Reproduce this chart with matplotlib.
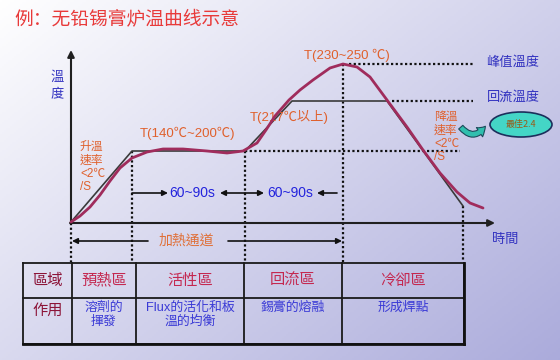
import numpy as np
import matplotlib.pyplot as plt
from matplotlib.patches import Ellipse, FancyArrowPatch

CJK = ['Noto Sans CJK TC', 'DejaVu Sans']
LAT = ['Liberation Sans', 'Noto Sans CJK TC', 'DejaVu Sans']
plt.rcParams['font.family'] = CJK

# 炉温曲线 (reflow profile, px units of the sketch)
curve_x = [71, 80, 90, 100, 110, 120, 132, 147, 163, 183, 207, 227, 243,
           257, 266, 275, 289, 300, 313, 330, 343, 357, 370, 387, 407, 423,
           440, 457, 470, 483]
curve_y = [222, 216, 207, 195, 181, 168, 158, 152, 149, 149, 151, 153, 151,
           143, 130, 116, 100, 90, 80, 68, 64, 67, 77, 100, 127, 150,
           173, 192, 203, 208]
# 理想折线
ideal_x = [71, 132, 245, 292, 387, 463]
ideal_y = [222, 151, 151, 101, 101, 206]

zone_x = [71, 132, 245, 343, 463]
soak_y, reflow_y, peak_y = 151, 101, 64

headers = ['區域', '預熱區', '活性區', '回流區', '冷卻區']
functions = ['作用', '溶劑的\n揮發', 'Flux的活化和板\n溫的均衡', '錫膏的熔融', '形成焊點']
col_x = [23, 72, 136, 244, 342, 464]
row_y = [263, 298, 344]

fig = plt.figure(figsize=(5.6, 3.6), dpi=100)
ax = fig.add_axes([0, 0, 1, 1])
ax.set_xlim(0, 560)
ax.set_ylim(360, 0)
ax.axis('off')

# background gradient
gx, gy = np.meshgrid(np.linspace(0, 1, 280), np.linspace(0, 1, 180))
t = np.clip(0.55 * gx + 0.45 * gy, 0, 1) ** 1.0
c0 = np.array([1.0, 1.0, 1.0])
c1 = np.array([0.67, 0.67, 0.86])
bg = c0 * (1 - t[..., None]) + c1 * t[..., None]
ax.imshow(bg, extent=[0, 560, 360, 0], aspect='auto', zorder=0)

ax.text(14, 20, '例：无铅锡膏炉温曲线示意', fontsize=13.5, color='#e83a3a',
        ha='left', va='center', family=['Noto Sans CJK SC', 'DejaVu Sans'])

# axes arrows
ax.annotate('', xy=(71, 50), xytext=(71, 223),
            arrowprops=dict(arrowstyle='-|>', color='#202020', lw=1.5,
                            mutation_scale=10, shrinkA=0, shrinkB=0))
ax.annotate('', xy=(495, 223), xytext=(70, 223),
            arrowprops=dict(arrowstyle='-|>', color='#202020', lw=1.5,
                            mutation_scale=10, shrinkA=0, shrinkB=0))

dot = dict(color='#111111', lw=1.6, linestyle=(0, (1, 1.1)))
ax.plot([245, 460], [soak_y, soak_y], **dot)
ax.plot([392, 473], [reflow_y, reflow_y], **dot)
ax.plot([349, 473], [peak_y, peak_y], **dot)
tops = [223, soak_y, soak_y, peak_y, 206]
for zx, ty in zip(zone_x, tops):
    ax.plot([zx, zx], [ty, 262], **dot)

ax.plot(ideal_x, ideal_y, color='#3a3a3a', lw=1.2, zorder=3)
ax.plot(curve_x, curve_y, color='#a02c5c', lw=2.0, zorder=4,
        solid_capstyle='round')

# 60~90s arrows
arr = dict(arrowstyle='-|>', color='#111111', lw=1.2, mutation_scale=8,
           shrinkA=0, shrinkB=0)
for a, b in [((132, 193), (168, 193)), ((245, 193), (220, 193)),
             ((245, 193), (264, 193)), ((337, 193), (317, 193)),
             ((148, 241), (72, 241)), ((228, 241), (342, 241))]:
    ax.annotate('', xy=b, xytext=a, arrowprops=arr)
for cx in [192, 290]:
    ax.text(cx, 193, '60~90s', fontsize=10, color='#2323dd', ha='center',
            va='center', family=LAT)
ax.text(186, 241, '加熱通道', fontsize=10, color='#e07038', ha='center',
        va='center')

orange = '#e0602c'
blue = '#3232c0'
ax.text(187, 133, 'T(140℃~200℃)', fontsize=9.5, color=orange, ha='center',
        va='center', family=LAT)
ax.text(250, 117, 'T(217℃以上)', fontsize=9.5, color=orange, ha='left',
        va='center', family=LAT)
ax.text(347, 55, 'T(230~250 ℃)', fontsize=9.5, color=orange, ha='center',
        va='center', family=LAT)
for i, s in enumerate(['升溫', '速率', '<2℃', '/S']):
    ax.text(80, 147 + 13.5 * i, s, fontsize=8.5, color=orange, ha='left',
            va='center', family=LAT)
for i, s in enumerate(['降溫', '速率', '<2℃', '/S']):
    ax.text(434, 117 + 13.5 * i, s, fontsize=8.5, color=orange, ha='left',
            va='center', family=LAT)

ax.text(57, 77, '溫', fontsize=9.5, color=blue, ha='center', va='center')
ax.text(57, 95, '度', fontsize=9.5, color=blue, ha='center', va='center')
ax.text(513, 62, '峰值溫度', fontsize=9.5, color=blue, ha='center', va='center')
ax.text(513, 97, '回流溫度', fontsize=9.5, color=blue, ha='center', va='center')
ax.text(505, 240, '時間', fontsize=9.5, color=blue, ha='center', va='center')

# 最佳 bubble
ax.add_patch(Ellipse((521, 124.5), 62, 25, fc='#44d6c6', ec='#1c2f5c',
                     lw=1.2, zorder=5))
ax.text(521, 124.5, '最佳2.4', fontsize=6.5, color='#9a5a18', ha='center',
        va='center', zorder=6)
ax.add_patch(FancyArrowPatch((459, 125), (487, 124),
                             connectionstyle='arc3,rad=0.7',
                             arrowstyle='simple,head_width=8,head_length=6,tail_width=4',
                             fc='#30bfae', ec='#1c4a5a', lw=0.8, zorder=5))

# table
for y in row_y:
    ax.plot([col_x[0], col_x[-1]], [y, y], color='#1a1a1a', lw=1.3)
for x in col_x:
    ax.plot([x, x], [row_y[0], row_y[-1]], color='#1a1a1a', lw=1.3)
ax.plot([col_x[-1], col_x[-1]], [row_y[0], row_y[-1]], color='#111111', lw=2)
ax.plot([col_x[0], col_x[-1]], [row_y[-1], row_y[-1]], color='#111111', lw=2)

for i in range(5):
    cx = (col_x[i] + col_x[i + 1]) / 2
    hc = '#8c1438' if i == 0 else '#c42850'
    ax.text(cx, 280, headers[i], fontsize=11, color=hc, ha='center',
            va='center')
    if i == 0:
        ax.text(cx, 310, functions[i], fontsize=11, color='#8c1438',
                ha='center', va='center')
    else:
        ax.text(cx, 302, functions[i], fontsize=9.3, color='#3a3ad6',
                ha='center', va='top', linespacing=1.15, family=LAT)

fig.savefig('out.png', dpi=100)
